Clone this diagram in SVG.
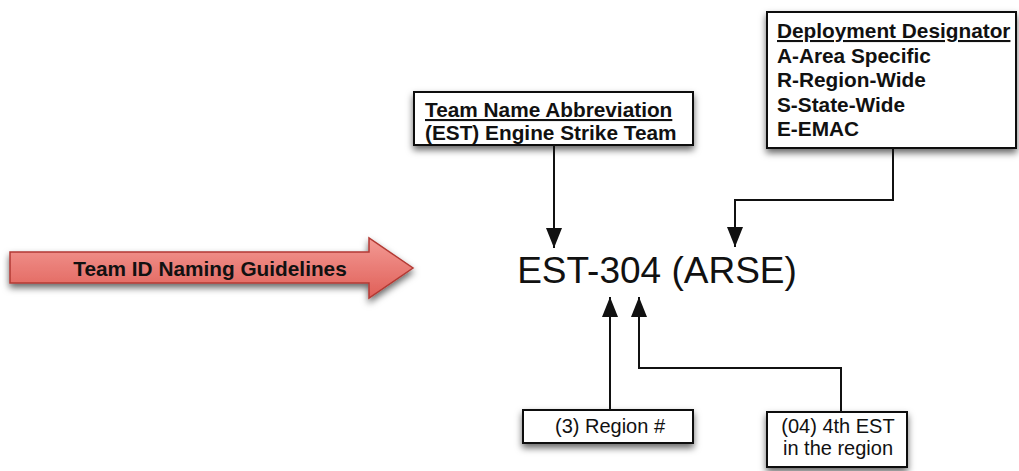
<svg xmlns="http://www.w3.org/2000/svg" width="1019" height="471" viewBox="0 0 1019 471">
<defs>
<style>
.box{fill:#fff;stroke:#111;stroke-width:2;filter:url(#sh)}
.b{font-family:"Liberation Sans",Arial,sans-serif;font-weight:bold;font-size:20.8px;fill:#111}
.r{font-family:"Liberation Sans",Arial,sans-serif;font-size:20px;fill:#111}
.c{fill:none;stroke:#111;stroke-width:2}
</style>
<filter id="sh" x="-10%" y="-20%" width="120%" height="160%">
<feDropShadow dx="0" dy="4" stdDeviation="3.5" flood-color="#000" flood-opacity="0.6"/>
</filter>
<linearGradient id="rg" x1="0" y1="0" x2="0" y2="1">
<stop offset="0" stop-color="#f39a94"/>
<stop offset="1" stop-color="#e05f58"/>
</linearGradient>
<marker id="ah" viewBox="0 0 20 16" refX="20" refY="8" markerWidth="20" markerHeight="16" markerUnits="userSpaceOnUse" orient="auto">
<path d="M0,0 L20,8 L0,16 Z" fill="#111"/>
</marker>
</defs>

<g id="banner">
<path d="M10,252 L369,252 L369,238 L413,268 L369,298 L369,283 L10,283 Z" fill="url(#rg)" stroke="#b33a34" stroke-width="1.5" filter="url(#sh)"/>
<text class="b" x="210" y="276" text-anchor="middle">Team ID Naming Guidelines</text>
</g>

<g id="team-name">
<rect class="box" x="414" y="92" width="279" height="53"/>
<text class="b" x="425" y="117" text-decoration="underline">Team Name Abbreviation</text>
<text class="b" x="425" y="140">(EST) Engine Strike Team</text>
</g>

<g id="deployment">
<rect class="box" x="767" y="12" width="249" height="136"/>
<text class="b" x="777" y="38" text-decoration="underline">Deployment Designator</text>
<text class="b" x="777" y="63">A-Area Specific</text>
<text class="b" x="777" y="87">R-Region-Wide</text>
<text class="b" x="777" y="112">S-State-Wide</text>
<text class="b" x="777" y="136">E-EMAC</text>
</g>

<g id="team-id">
<text x="657" y="283" text-anchor="middle" font-family="'Liberation Sans',Arial,sans-serif" font-size="37" fill="#111">EST-304 (ARSE)</text>
</g>

<g id="region">
<rect class="box" x="523" y="410" width="170" height="33"/>
<text class="r" x="610" y="433" text-anchor="middle">(3) Region #</text>
</g>

<g id="sequence">
<rect class="box" x="767" y="412" width="140" height="55"/>
<text class="r" x="838" y="433" text-anchor="middle">(04) 4th EST</text>
<text class="r" x="838" y="455" text-anchor="middle">in the region</text>
</g>

<g id="connectors">
<path class="c" d="M554,145 L554,248" marker-end="url(#ah)"/>
<path class="c" d="M893,148 L893,200 L735,200 L735,247" marker-end="url(#ah)"/>
<path class="c" d="M610,410 L610,297" marker-end="url(#ah)"/>
<path class="c" d="M841,412 L841,368 L639,368 L639,297" marker-end="url(#ah)"/>
</g>
</svg>
